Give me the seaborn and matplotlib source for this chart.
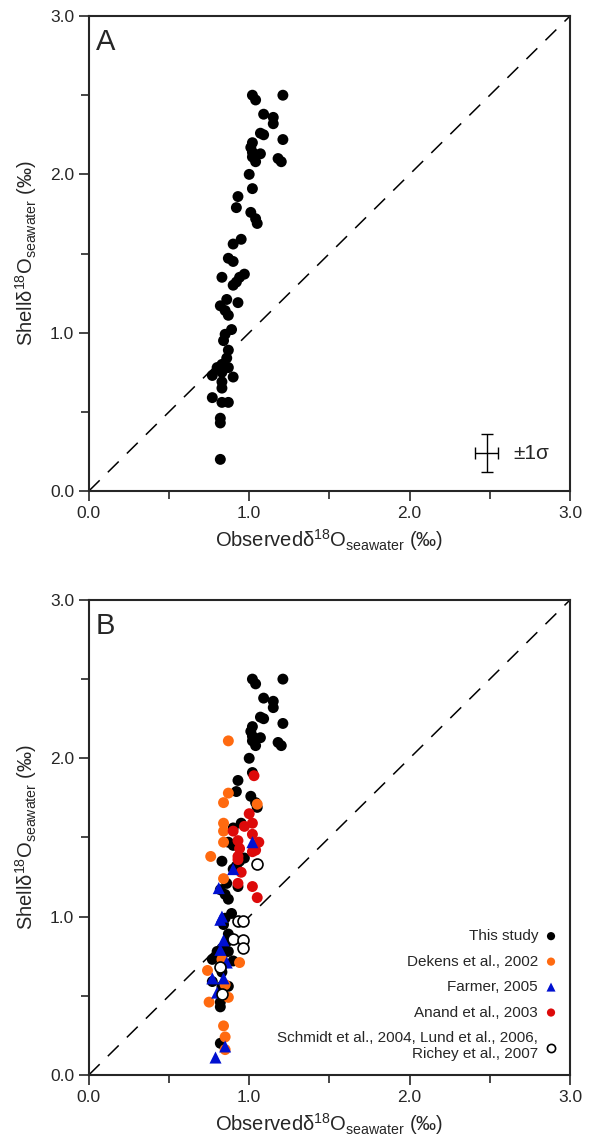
import matplotlib
matplotlib.use('Agg')
import matplotlib.pyplot as plt
import seaborn as sns
import pandas as pd

# this study (both panels)
this_x = [1.02, 1.04, 1.21, 1.09, 1.15, 1.15, 1.07, 1.09, 1.21, 1.02, 1.01, 1.02, 1.07, 1.02, 1.04,
          1.18, 1.20, 1.00, 1.02, 0.93, 0.92, 1.01, 1.04, 1.05, 0.95, 0.90, 0.87, 0.90, 0.83, 0.94,
          0.97, 0.92, 0.90, 0.82, 0.86, 0.93, 0.85, 0.87, 0.89, 0.85, 0.84, 0.87, 0.86, 0.83, 0.80,
          0.87, 0.83, 0.77, 0.90, 0.83, 0.83, 0.77, 0.83, 0.87, 0.82, 0.82, 0.82]
this_y = [2.50, 2.47, 2.50, 2.38, 2.36, 2.32, 2.26, 2.25, 2.22, 2.20, 2.17, 2.14, 2.13, 2.11, 2.08,
          2.10, 2.08, 2.00, 1.91, 1.86, 1.79, 1.76, 1.72, 1.69, 1.59, 1.56, 1.47, 1.45, 1.35, 1.35,
          1.37, 1.32, 1.30, 1.17, 1.21, 1.19, 1.14, 1.11, 1.02, 0.99, 0.95, 0.89, 0.84, 0.80, 0.78,
          0.78, 0.75, 0.73, 0.72, 0.69, 0.65, 0.59, 0.56, 0.56, 0.46, 0.43, 0.20]

dekens_x = [0.87, 0.87, 0.84, 1.05, 0.84, 0.84, 0.84, 0.76, 0.84, 0.94, 0.74, 0.83, 0.85, 0.87,
            0.75, 0.84, 0.85, 0.85]
dekens_y = [2.11, 1.78, 1.72, 1.71, 1.59, 1.54, 1.47, 1.38, 1.24, 0.71, 0.66, 0.73, 0.57, 0.49,
            0.46, 0.31, 0.24, 0.16]

anand_x = [1.03, 1.00, 1.02, 0.90, 0.97, 1.02, 0.93, 1.06, 0.94, 1.04, 0.93, 0.93, 0.95, 0.93,
           1.02, 1.05, 1.02]
anand_y = [1.89, 1.65, 1.59, 1.54, 1.57, 1.52, 1.48, 1.47, 1.43, 1.42, 1.38, 1.36, 1.28, 1.21,
           1.19, 1.12, 1.41]

farmer_x = [1.02, 0.90, 0.81, 0.83, 0.82, 0.84, 0.82, 0.86, 0.77, 0.84, 0.80, 0.85, 0.79]
farmer_y = [1.47, 1.30, 1.18, 1.00, 0.98, 0.85, 0.79, 0.71, 0.61, 0.61, 0.52, 0.18, 0.11]

schmidt_x = [1.05, 0.93, 0.96, 0.90, 0.96, 0.96, 0.82, 0.83]
schmidt_y = [1.33, 0.97, 0.97, 0.86, 0.85, 0.80, 0.68, 0.51]

labels = ['This study', 'Dekens et al., 2002', 'Farmer, 2005', 'Anand et al., 2003',
          'Schmidt et al., 2004, Lund et al., 2006,\nRichey et al., 2007']

# 1 sigma error bar
err_x, err_y = [2.48], [0.24]
err_dx, err_dy = 0.07, 0.12

ticks = [0.0, 1.0, 2.0, 3.0]
tick_labels = ['0.0', '1.0', '2.0', '3.0']
minor_ticks = [0.5, 1.5, 2.5]

sns.set_style('ticks')
plt.rcParams['font.family'] = ['Liberation Sans', 'DejaVu Sans']
plt.rcParams['mathtext.default'] = 'regular'

fig = plt.figure(figsize=(6, 11.38), dpi=100)
ax_a = fig.add_axes([0.148, 0.5685, 0.802, 0.4174])
ax_b = fig.add_axes([0.148, 0.0554, 0.802, 0.4174])

xlab = r'Observed$\delta^{18}O_{seawater}$ (‰)'
ylab = r'Shell$\delta^{18}O_{seawater}$ (‰)'


def style_axes(ax, letter):
    ax.plot(ticks, ticks, color='black', lw=1.1, ls=(0, (10, 7.5)), zorder=1)
    ax.set_xlim(0, 3)
    ax.set_ylim(0, 3)
    ax.set_xticks(ticks)
    ax.set_xticklabels(tick_labels)
    ax.set_yticks(ticks)
    ax.set_yticklabels(tick_labels)
    ax.set_xticks(minor_ticks, minor=True)
    ax.set_yticks(minor_ticks, minor=True)
    ax.tick_params(which='major', length=7, width=1.2, labelsize=12.5, direction='out')
    ax.tick_params(which='minor', length=6, width=1.2, direction='out')
    for s in ax.spines.values():
        s.set_linewidth(1.5)
        s.set_visible(True)
    ax.set_xlabel(xlab, fontsize=14.5, labelpad=5)
    ax.set_ylabel(ylab, fontsize=14.5, labelpad=8)
    ax.text(0.015, 0.975, letter, transform=ax.transAxes, fontsize=21, va='top', ha='left')


df_this = pd.DataFrame({'x': this_x, 'y': this_y})

# panel A
sns.scatterplot(data=df_this, x='x', y='y', ax=ax_a, color='black', s=62, edgecolor='none', zorder=3)
ax_a.errorbar(err_x, err_y, xerr=err_dx, yerr=err_dy, fmt='none', ecolor='black',
              elinewidth=1.0, capsize=4, capthick=1.0)
ax_a.text(err_x[0] + 0.17, err_y[0], '±1σ', fontsize=15, va='center', ha='left')
style_axes(ax_a, 'A')

# panel B
sns.scatterplot(data=df_this, x='x', y='y', ax=ax_b, color='black', s=62, edgecolor='none',
                zorder=3, label=labels[0])
sns.scatterplot(x=dekens_x, y=dekens_y, ax=ax_b, color='#ff6a10', s=62, edgecolor='none',
                zorder=4, label=labels[1])
sns.scatterplot(x=farmer_x, y=farmer_y, ax=ax_b, color='#0010d0', marker='^', s=75,
                edgecolor='none', zorder=6, label=labels[2])
sns.scatterplot(x=anand_x, y=anand_y, ax=ax_b, color='#dd0a0a', s=62, edgecolor='none',
                zorder=5, label=labels[3])
sns.scatterplot(x=schmidt_x, y=schmidt_y, ax=ax_b, color='white', s=62, edgecolor='black',
                linewidth=1.2, zorder=7, label=labels[4])
style_axes(ax_b, 'B')

leg = ax_b.legend(loc='lower right', bbox_to_anchor=(1.005, 0.0), frameon=False,
                  markerfirst=False, fontsize=11, markerscale=0.75, handletextpad=0.35,
                  labelspacing=0.75, handlelength=1.0, borderaxespad=0.5)
for t in leg.get_texts():
    t.set_multialignment('right')

fig.savefig('out.png', dpi=100)
plt.close(fig)
